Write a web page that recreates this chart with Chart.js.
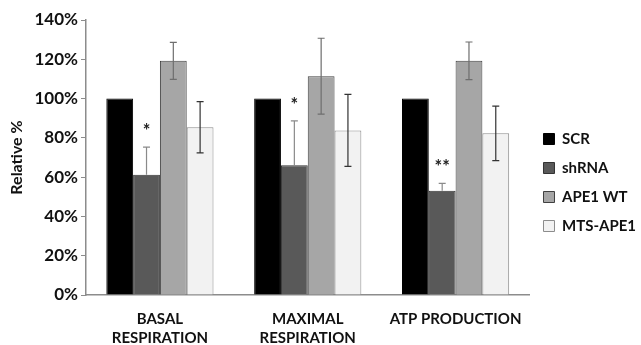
<!DOCTYPE html>
<html>
<head>
<meta charset="utf-8">
<script src="https://cdn.jsdelivr.net/npm/chart.js@4/dist/chart.umd.min.js"></script>
<style>
    html, body { margin: 0; padding: 0; background: #fff; }
    #wrap { width: 641px; height: 345px; }
</style>
</head>
<body>
<div id="wrap"><canvas id="chart" width="641" height="345"></canvas></div>
<script>

// Categories along the x axis.
var categories = [["BASAL", "RESPIRATION"], ["MAXIMAL", "RESPIRATION"], "ATP PRODUCTION"];

// Series values (relative %).
var scr = [100, 100, 100];
var shrna = [61.2, 66.0, 53.1];
var ape1wt = [119.2, 111.4, 119.2];
var mtsape1 = [85.4, 83.8, 82.3];

// Error bar half widths.
var scrErr = [0, 0, 0];
var shrnaErr = [14.1, 22.6, 3.7];
var ape1wtErr = [9.4, 19.3, 9.6];
var mtsape1Err = [13.0, 18.3, 13.9];

// Significance marks drawn over the shRNA bars.
var shrnaSig = ["*", "*", "**"];

// Y axis tick values.
var yTicks = [0, 20, 40, 60, 80, 100, 120, 140];


var FONT = "Lato, 'Open Sans', sans-serif";

/**
* Plugin drawing error bars and significance stars.
*/
var errorBarPlugin = {
    id: "errorBars",
    afterDatasetsDraw: function(chart) {
        var ctx = chart.ctx;
        var yScale = chart.scales.y;
        chart.data.datasets.forEach(function(ds, i) {
            var meta = chart.getDatasetMeta(i);
            if (meta.hidden) { return; }
            meta.data.forEach(function(bar, j) {
                var err = ds.errors[j];
                if (!err) { return; }
                var v = ds.data[j];
                var x = bar.x;
                var yTop = yScale.getPixelForValue(v + err);
                var yBot = ds.showLower ? yScale.getPixelForValue(v - err) : yScale.getPixelForValue(v);
                ctx.save();
                ctx.strokeStyle = ds.errorColor;
                ctx.lineWidth = 1.2;
                ctx.beginPath();
                ctx.moveTo(x, yTop);
                ctx.lineTo(x, yBot);
                ctx.moveTo(x - 3.5, yTop);
                ctx.lineTo(x + 3.5, yTop);
                if (ds.showLower) {
                    ctx.moveTo(x - 3.5, yBot);
                    ctx.lineTo(x + 3.5, yBot);
                }
                ctx.stroke();
                if (ds.sig && ds.sig[j]) {
                    ctx.fillStyle = "#222";
                    ctx.font = "bold 18px " + FONT;
                    ctx.textAlign = "center";
                    ctx.textBaseline = "middle";
                    ctx.fillText(ds.sig[j], x, yTop - 16);
                }
                ctx.restore();
            });
        });
    }
};

var data = {
    labels: categories,
    datasets: [
        { label: "SCR", data: scr, errors: scrErr, backgroundColor: "#000000", borderColor: "#000000", borderWidth: 1, errorColor: "#000", showLower: false },
        { label: "shRNA", data: shrna, errors: shrnaErr, sig: shrnaSig, backgroundColor: "#595959", borderColor: "#333333", borderWidth: 1, errorColor: "#8a8a8a", showLower: false },
        { label: "APE1 WT", data: ape1wt, errors: ape1wtErr, backgroundColor: "#a6a6a6", borderColor: "#404040", borderWidth: 1, errorColor: "#6e6e6e", showLower: true },
        { label: "MTS-APE1", data: mtsape1, errors: mtsape1Err, backgroundColor: "#f2f2f2", borderColor: "#8c8c8c", borderWidth: 1, errorColor: "#333333", showLower: true }
    ]
};

var options = {
    responsive: false,
    animation: false,
    layout: { padding: { top: 20, right: -5, bottom: 0, left: 0 } },
    datasets: {
        bar: { categoryPercentage: 0.725, barPercentage: 1.0 }
    },
    scales: {
        x: {
            grid: { display: false, drawTicks: false },
            border: { display: true, color: "#8c8c8c", width: 1.5 },
            ticks: {
                color: "#111",
                font: { family: FONT, size: 15, weight: "bold", lineHeight: 1.3 },
                padding: 14,
                maxRotation: 0,
                autoSkip: false
            },
            afterFit: function(scale) { scale.height = 50; }
        },
        y: {
            min: 0,
            max: 140,
            afterBuildTicks: function(scale) {
                scale.ticks = yTicks.map(function(v) { return { value: v }; });
            },
            grid: { drawOnChartArea: false, drawTicks: true, tickLength: 5, color: "#8c8c8c" },
            border: { display: true, color: "#8c8c8c", width: 1.5 },
            ticks: {
                color: "#111",
                font: { family: FONT, size: 17, weight: "bold" },
                padding: 3,
                callback: function(v) { return v + "%"; }
            },
            title: {
                display: true,
                text: "Relative %",
                color: "#111",
                font: { family: FONT, size: 16, weight: "bold" },
                padding: { top: 7, bottom: 0 }
            },
            afterFit: function(scale) { scale.width = 86; }
        }
    },
    plugins: {
        legend: {
            position: "right",
            align: "center",
            labels: {
                boxWidth: 11,
                boxHeight: 11,
                padding: 14,
                color: "#111",
                font: { family: FONT, size: 15, weight: "bold" }
            }
        },
        tooltip: { enabled: false }
    }
};

var chart = new Chart(document.getElementById("chart").getContext("2d"), {
    type: "bar",
    data: data,
    options: options,
    plugins: [errorBarPlugin]
});

</script>
</body>
</html>
